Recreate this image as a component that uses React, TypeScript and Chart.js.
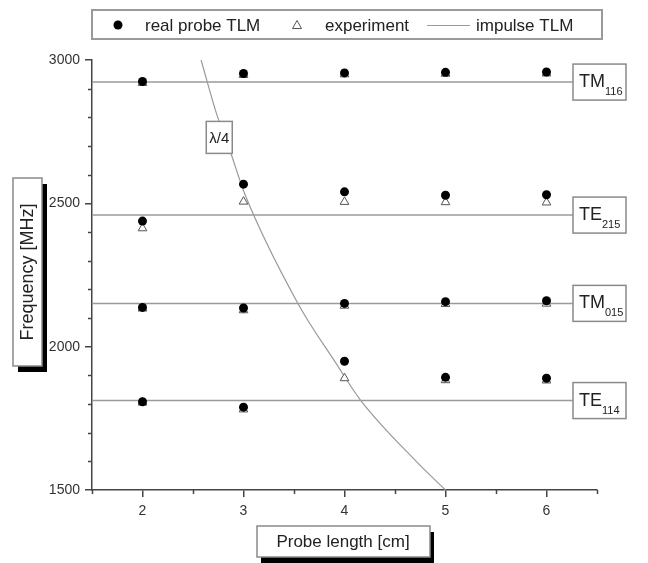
import { useEffect, useRef } from 'react';
import { Chart, registerables } from 'chart.js';

Chart.register(...registerables);

// ---------- data ----------
const probeLength = [2, 3, 4, 5, 6];

const realProbeTM116 = [2925, 2953, 2955, 2957, 2958];
const realProbeTE215 = [2438, 2567, 2540, 2528, 2530];
const realProbeTM015 = [2137, 2135, 2151, 2157, 2160];
const realProbeTE114 = [1808, 1789, 1949, 1893, 1890];

const experimentTM116 = [2920, 2948, 2950, 2952, 2953];
const experimentTE215 = [2413, 2506, 2505, 2504, 2503];
const experimentTM015 = [2133, 2127, 2143, 2149, 2150];
const experimentTE114 = [1805, 1781, 1890, 1883, 1882];

const modeNames = ['TM', 'TE', 'TM', 'TE'];
const modeSubs = ['116', '215', '015', '114'];
const modeFreq = [2923, 2459, 2151, 1812];

const quarterWaveLength = [2.58, 2.74, 2.87, 3.01, 3.54, 3.92, 4.16, 4.71, 5.0];
const quarterWaveFreq = [3000, 2805, 2680, 2535, 2150, 1940, 1813, 1600, 1500];

const xMajorTicks = [2, 3, 4, 5, 6];
const xMinorTicks = [1.5, 2.5, 3.5, 4.5, 5.5, 6.5];
const yMajorTicks = [1500, 2000, 2500, 3000];
const yMinorTicks = [1600, 1700, 1800, 1900, 2100, 2200, 2300, 2400, 2600, 2700, 2800, 2900];

const FONT = '"Liberation Sans", Arial, sans-serif';
const AXIS = '#444';
const LINEGRAY = '#9a9a9a';

function zip(xs: number[], ys: number[]) {
  return xs.map((x, i) => ({ x, y: ys[i] }));
}

function box(ctx: CanvasRenderingContext2D, x: number, y: number, w: number, h: number, shadow?: [number, number]) {
  if (shadow) {
    ctx.fillStyle = '#000';
    ctx.fillRect(x + shadow[0], y + shadow[1], w, h);
  }
  ctx.fillStyle = '#fff';
  ctx.fillRect(x, y, w, h);
  ctx.strokeStyle = '#8a8a8a';
  ctx.lineWidth = 1.5;
  ctx.strokeRect(x, y, w, h);
}

const overlay = {
  id: 'overlay',
  afterDraw(chart: any) {
    const ctx: CanvasRenderingContext2D = chart.ctx;
    const xs = chart.scales.x;
    const ys = chart.scales.y;
    const area = chart.chartArea;
    ctx.save();

    // minor ticks
    ctx.strokeStyle = AXIS;
    ctx.lineWidth = 1.5;
    ctx.beginPath();
    xMinorTicks.forEach((v) => {
      const px = Math.round(xs.getPixelForValue(v)) + 0.5;
      ctx.moveTo(px, area.bottom);
      ctx.lineTo(px, area.bottom + 4);
    });
    yMinorTicks.forEach((v) => {
      const py = Math.round(ys.getPixelForValue(v)) + 0.5;
      ctx.moveTo(area.left, py);
      ctx.lineTo(area.left - 4, py);
    });
    ctx.stroke();

    // mode labels
    modeNames.forEach((name, i) => {
      const cy = ys.getPixelForValue(modeFreq[i]);
      const left = 573;
      const w = 53;
      const h = 36;
      box(ctx, left, cy - h / 2, w, h);
      ctx.fillStyle = '#222';
      ctx.textBaseline = 'alphabetic';
      ctx.textAlign = 'left';
      ctx.font = `18px ${FONT}`;
      ctx.fillText(name, left + 6, cy + 5);
      const mw = ctx.measureText(name).width;
      ctx.font = `11px ${FONT}`;
      ctx.fillText(modeSubs[i], left + 6 + mw, cy + 13);
    });

    // lambda/4 label
    {
      const cx = xs.getPixelForValue(2.76);
      const cy = ys.getPixelForValue(2730);
      box(ctx, cx - 13, cy - 16, 26, 32);
      ctx.fillStyle = '#222';
      ctx.font = `15px ${FONT}`;
      ctx.textAlign = 'center';
      ctx.textBaseline = 'middle';
      ctx.fillText('λ/4', cx, cy + 1);
    }

    // legend
    ctx.strokeStyle = '#9a9a9a';
    ctx.lineWidth = 2;
    ctx.strokeRect(92, 10, 510, 29);
    ctx.fillStyle = '#000';
    ctx.beginPath();
    ctx.arc(118, 25, 4.5, 0, Math.PI * 2);
    ctx.fill();
    ctx.strokeStyle = '#555';
    ctx.lineWidth = 1;
    ctx.beginPath();
    ctx.moveTo(297, 20.5);
    ctx.lineTo(301.5, 28.5);
    ctx.lineTo(292.5, 28.5);
    ctx.closePath();
    ctx.stroke();
    ctx.strokeStyle = LINEGRAY;
    ctx.lineWidth = 1.2;
    ctx.beginPath();
    ctx.moveTo(427, 25.5);
    ctx.lineTo(470, 25.5);
    ctx.stroke();
    ctx.fillStyle = '#222';
    ctx.font = `17px ${FONT}`;
    ctx.textAlign = 'left';
    ctx.textBaseline = 'middle';
    ctx.fillText('real probe TLM', 145, 26);
    ctx.fillText('experiment', 325, 26);
    ctx.fillText('impulse TLM', 476, 26);

    // y title
    box(ctx, 13, 178, 29, 188, [5, 6]);
    ctx.save();
    ctx.translate(28, 272);
    ctx.rotate(-Math.PI / 2);
    ctx.fillStyle = '#222';
    ctx.font = `18px ${FONT}`;
    ctx.textAlign = 'center';
    ctx.textBaseline = 'middle';
    ctx.fillText('Frequency [MHz]', 0, 0);
    ctx.restore();

    // x title
    box(ctx, 257, 526, 173, 31, [4, 6]);
    ctx.fillStyle = '#222';
    ctx.font = `17px ${FONT}`;
    ctx.textAlign = 'center';
    ctx.textBaseline = 'middle';
    ctx.fillText('Probe length [cm]', 343, 542);

    ctx.restore();
  },
};

export default function App() {
  const ref = useRef<HTMLCanvasElement | null>(null);

  useEffect(() => {
    if (!ref.current) return;
    const modeLines = modeFreq.map((f) => ({
      type: 'scatter' as const,
      data: [
        { x: 1.5, y: f },
        { x: 6.5, y: f },
      ],
      showLine: true,
      borderColor: LINEGRAY,
      borderWidth: 1.5,
      pointRadius: 0,
      order: 3,
    }));
    const realData = [
      ...zip(probeLength, realProbeTM116),
      ...zip(probeLength, realProbeTE215),
      ...zip(probeLength, realProbeTM015),
      ...zip(probeLength, realProbeTE114),
    ];
    const expData = [
      ...zip(probeLength, experimentTM116),
      ...zip(probeLength, experimentTE215),
      ...zip(probeLength, experimentTM015),
      ...zip(probeLength, experimentTE114),
    ];
    const chart = new Chart(ref.current, {
      type: 'scatter',
      data: {
        datasets: [
          {
            label: 'real probe TLM',
            data: realData,
            pointStyle: 'circle',
            pointRadius: 4.5,
            backgroundColor: '#000',
            borderColor: '#000',
            borderWidth: 0,
            order: 0,
          },
          {
            label: 'experiment',
            data: expData,
            pointStyle: 'triangle',
            pointRadius: 5,
            backgroundColor: '#fff',
            borderColor: '#555',
            borderWidth: 1,
            order: 1,
          },
          ...modeLines,
          {
            label: 'impulse TLM',
            data: zip(quarterWaveLength, quarterWaveFreq),
            showLine: true,
            borderColor: LINEGRAY,
            borderWidth: 1.2,
            pointRadius: 0,
            cubicInterpolationMode: 'monotone',
            order: 3,
          },
        ] as any,
      },
      options: {
        animation: false,
        responsive: false,
        layout: { padding: { left: 0, right: 51, top: 60, bottom: 0 } },
        plugins: {
          legend: { display: false },
          tooltip: { enabled: false },
        },
        scales: {
          x: {
            type: 'linear',
            min: 1.5,
            max: 6.5,
            afterBuildTicks: (s: any) => {
              s.ticks = xMajorTicks.map((v) => ({ value: v }));
            },
            afterFit: (s: any) => {
              s.height = 73;
            },
            grid: {
              drawOnChartArea: false,
              drawTicks: true,
              tickLength: 7,
              color: AXIS,
              lineWidth: 1.5,
            },
            border: { display: true, color: AXIS, width: 1.5 },
            ticks: {
              color: '#333',
              font: { family: FONT, size: 14 },
              padding: 6,
              maxRotation: 0,
              callback: (v: any) => String(v),
            },
          },
          y: {
            type: 'linear',
            min: 1500,
            max: 3000,
            afterBuildTicks: (s: any) => {
              s.ticks = yMajorTicks.map((v) => ({ value: v }));
            },
            afterFit: (s: any) => {
              s.width = 92;
            },
            grid: {
              drawOnChartArea: false,
              drawTicks: true,
              tickLength: 7,
              color: AXIS,
              lineWidth: 1.5,
            },
            border: { display: true, color: AXIS, width: 1.5 },
            ticks: {
              color: '#333',
              font: { family: FONT, size: 14 },
              padding: 5,
              callback: (v: any) => String(v),
            },
          },
        },
      },
      plugins: [overlay],
    });
    return () => chart.destroy();
  }, []);

  return (
    <div style={{ position: 'fixed', left: 0, top: 0, width: 648, height: 563, background: '#fff' }}>
      <canvas ref={ref} width={648} height={563} style={{ width: 648, height: 563, display: 'block' }} />
    </div>
  );
}
